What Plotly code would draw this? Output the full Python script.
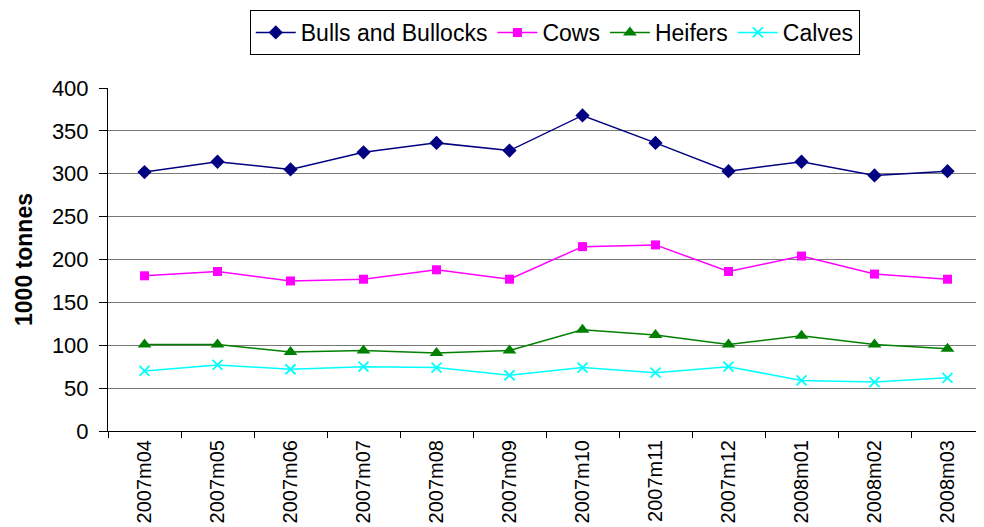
import plotly.graph_objects as go

months = ["2007m04", "2007m05", "2007m06", "2007m07", "2007m08", "2007m09",
          "2007m10", "2007m11", "2007m12", "2008m01", "2008m02", "2008m03"]
bulls = [302, 314, 305, 325, 336, 327, 368, 336, 303, 314, 298, 303]
cows = [181, 186, 175, 177, 188, 177, 215, 217, 186, 204, 183, 177]
heifers = [101, 101, 92, 94, 91, 94, 118, 112, 101, 111, 101, 96]
calves = [70, 77, 72, 75, 74, 65, 74, 68, 75, 59, 57, 62]

FONT = "Liberation Sans, Arial, sans-serif"

fig = go.Figure()
fig.add_trace(go.Scatter(x=months, y=bulls, name="Bulls and Bullocks", mode="lines+markers",
                         line=dict(color="#000080", width=1.5),
                         marker=dict(symbol="diamond", size=11, color="#000080")))
fig.add_trace(go.Scatter(x=months, y=cows, name="Cows", mode="lines+markers",
                         line=dict(color="#FF00FF", width=1.5),
                         marker=dict(symbol="square", size=9, color="#FF00FF")))
fig.add_trace(go.Scatter(x=months, y=heifers, name="Heifers", mode="lines+markers",
                         line=dict(color="#008000", width=1.5),
                         marker=dict(symbol="triangle-up", size=12, color="#008000")))
fig.add_trace(go.Scatter(x=months, y=calves, name="Calves", mode="lines+markers",
                         line=dict(color="#00FFFF", width=1.5),
                         marker=dict(symbol="x-thin", size=10, color="#00FFFF",
                                     line=dict(color="#00FFFF", width=1.8))))

fig.update_layout(
    width=976, height=519,
    margin=dict(l=100, r=0, t=80, b=96),
    paper_bgcolor="white", plot_bgcolor="white",
    font=dict(family=FONT, size=22, color="black"),
    legend=dict(orientation="h", x=0.51, y=1.2274, xanchor="center", yanchor="top",
                bordercolor="black", borderwidth=1, font=dict(size=23),
                itemwidth=40, tracegroupgap=0),
    showlegend=True,
)
fig.update_xaxes(type="category", range=[-0.5, 11.5], tickangle=-90,
                 ticks="outside", tickson="boundaries", ticklen=6, tickcolor="black",
                 showline=True, linecolor="black", linewidth=1, showgrid=False,
                 tickfont=dict(size=20), automargin=False)
fig.update_yaxes(range=[0, 400], dtick=50, ticks="outside", ticklen=8, tickcolor="black",
                 ticklabelstandoff=6,
                 showline=True, linecolor="black", linewidth=1,
                 showgrid=True, gridcolor="#787878", gridwidth=1, zeroline=False,
                 title=dict(text="<b>1000 tonnes</b>", font=dict(size=23), standoff=12),
                 tickfont=dict(size=22), automargin=False)

fig.write_html("out.html")
